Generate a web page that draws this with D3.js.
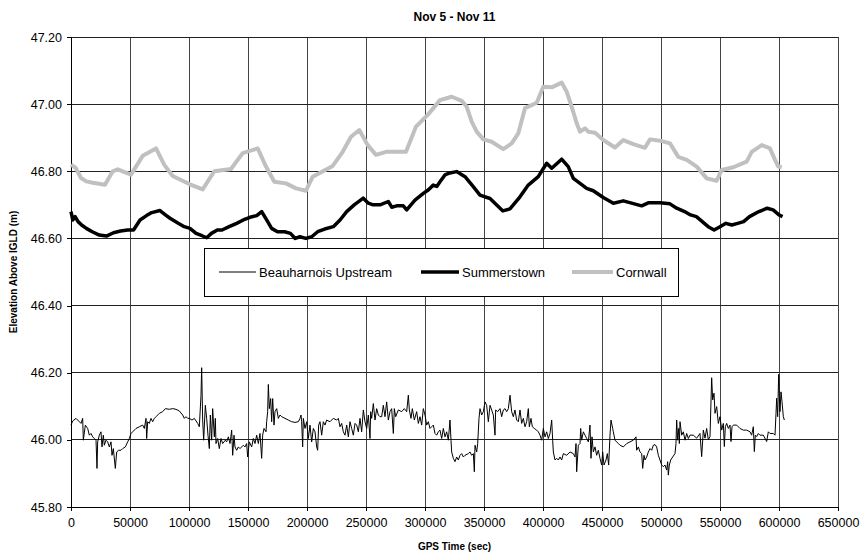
<!DOCTYPE html>
<html>
<head>
<meta charset="utf-8">
<script src="https://cdn.jsdelivr.net/npm/d3@7"></script>
<style>
  html, body { margin: 0; padding: 0; background: #fff; }
  svg { display: block; font-family: Arial, "Liberation Sans", sans-serif; }
</style>
</head>
<body>
<svg id="chart" width="863" height="558"></svg>
<script>
// Water level elevations, Nov 5 - Nov 11 (GPS time in seconds, elevation in m above IGLD)

const xTicks = [0, 50000, 100000, 150000, 200000, 250000, 300000, 350000, 400000, 450000, 500000, 550000, 600000, 650000];
const yTicks = [45.8, 46.0, 46.2, 46.4, 46.6, 46.8, 47.0, 47.2];
const seriesNames = ["Beauharnois Upstream", "Summerstown", "Cornwall"];

const beauharnoisTime = [
  0, 1400, 4240, 6500, 8500, 9890, 10450, 12150, 14120, 15540, 16950, 18360, 19780, 21190, 22030, 22600,
  24010, 25420, 26270, 27400, 28250, 29660, 31070, 32490, 33900, 34750, 35880, 37570, 38700, 40400, 42370,
  43780, 46050, 48030, 49440, 50850, 52260, 55090, 57910, 60740, 62150, 63560, 64130, 64970, 66380, 67790,
  69210, 70620, 72040, 74860, 77680, 79940, 83330, 86160, 88980, 91810, 94640, 96050, 97460, 98870, 100280,
  102540, 104520, 107350, 108760, 110170, 110730, 111580, 112430, 113840, 114970, 116100, 117230, 118080,
  119210, 120060, 121470, 122310, 122880, 124290, 125700, 127120, 128530, 130790,
  131920, 133330, 134750, 136160, 137010, 138140, 138980, 140400, 141810, 143220, 146050, 147460, 148870,
  149720, 151130, 153110, 154520, 155930, 157350, 158760, 160170, 161580, 162430, 163560, 165260, 165820,
  166670, 167230, 168080, 169210, 170060, 170910, 172040, 172880, 174300, 175710, 177120, 178530, 181360,
  184180, 187010, 189830, 192660, 194070, 194920, 195480, 196330, 196890, 198310, 199720, 201130, 202540,
  203960, 205370, 206780, 208190, 209040, 209890, 211020, 212430, 213840, 215260, 216670, 219490, 222320,
  225140, 226560, 227970, 229380, 230790, 232210, 233620, 235030, 236440, 237860, 239270, 240680, 242090,
  243500, 244920, 246330, 247740, 249160, 250570, 251980, 253390, 253960, 254800, 256220, 257630, 259040,
  260450, 261870,
  263280, 264690, 266100, 267520, 268930, 270340, 271750, 273170, 274010, 275140, 277400, 280230, 282490,
  284470, 285880, 286720, 288140, 289270, 290960, 292940, 294350, 295760, 297180, 298590, 300000, 301410,
  302830, 304240, 305650, 307060, 308480, 309890, 311300, 312710, 314130, 315540, 316960, 318360, 319780,
  321190, 322040, 322600, 324020, 325430, 326840, 328250, 329660, 331080, 332490, 333900, 336720, 338140,
  339550, 340970, 341810, 342380, 343790, 344640, 345760, 346610, 348030, 349440, 350850, 352260, 353680,
  355090, 356500, 357910, 359320, 359890, 361580, 363560, 364970, 366390, 367800, 369210, 370620, 372040,
  373450, 374860, 376270, 377680, 379100, 380510, 381920, 383330, 384750, 386160, 387570, 388420, 389830,
  390960, 392660,
  394630, 396050, 397460, 398870, 400280, 401700, 403110, 404520, 405930, 407350, 408190, 408760, 410170,
  411580, 412990, 414410, 415820, 417230, 420060, 422880, 425710, 427120, 427970, 428530, 429940, 431360,
  431920, 432770, 434180, 435600, 437010, 438420, 439830, 440680, 441530, 442660, 444070, 445480, 446900,
  448310, 449720, 450570, 451700, 453390, 454520, 455650, 456780, 457630, 459040, 459610, 461020, 462430,
  463840, 465260, 468080, 470910, 473730, 476560, 478820, 479380, 480790, 482210, 483620, 484470, 485600,
  486440, 487850, 489270, 490680, 492090, 493500, 494920, 496330, 497740, 499150, 500570, 501980, 503390,
  504800, 505650, 506210, 507060, 508190, 509890, 511870, 512710, 513280, 514130, 514970, 515540, 516110,
  517520, 518930, 520340, 521760, 523170, 524580,
  527400, 530230, 533050, 534460, 535880, 537290, 538700, 540120, 541530, 542940, 543790, 544920, 545770,
  547180, 548590, 550000, 551420, 552830, 553680, 554520, 555650, 557070, 558480, 559330, 560180, 561310,
  564130, 566960, 569780, 572610, 575430, 576840, 578250, 579100, 579950, 581080, 582490, 583900, 586730,
  589550, 590960, 592380, 595200, 596610, 597460, 598030, 598870, 599720, 600290, 600850, 601700, 602550,
  603680, 604530
];
const beauharnoisLevel = [
  46.044, 46.056, 46.064, 46.056, 46.049, 46.064, 45.999, 46.044, 46.034, 46.014, 46.019, 46.009, 46.004, 45.999, 45.915, 45.994,
  46.014, 46.024, 45.979, 46.014, 45.984, 45.999, 45.994, 45.979, 45.994, 45.954, 45.974, 45.915, 45.964, 45.969, 45.969,
  45.974, 45.979, 45.994, 46.004, 46.019, 46.024, 46.034, 46.039, 46.044, 46.034, 46.064, 46.004, 46.054, 46.049, 46.064,
  46.054, 46.064, 46.069, 46.079, 46.084, 46.093, 46.091, 46.093, 46.091, 46.086, 46.074, 46.064, 46.069, 46.064, 46.064,
  46.059, 46.064, 46.049, 46.039, 46.133, 46.215, 46.059, 45.999, 46.103, 46.064, 46.014, 45.974, 46.074,
  45.999, 46.093, 46.009, 46.064, 45.989, 46.004, 45.974, 46.004, 45.989, 45.999,
  45.994, 46.009, 45.989, 46.029, 45.954, 46.014, 45.979, 45.969, 45.979, 45.974, 45.984, 45.979, 45.989,
  45.949, 45.994, 45.979, 46.004, 45.989, 46.014, 45.989, 46.019, 45.945, 46.014, 46.034, 46.024, 46.054,
  46.084, 46.165, 46.093, 46.123, 46.054, 46.123, 46.044, 46.084, 46.093, 46.064, 46.074, 46.069, 46.064,
  46.059, 46.054, 46.052, 46.054, 46.064, 46.074, 46.054, 45.979, 46.064, 46.034, 46.054, 46.004, 46.044,
  45.994, 46.034, 46.024, 45.979, 45.969, 46.044, 46.054, 46.014, 46.054, 46.044, 46.059, 46.054, 46.064,
  46.059, 46.064, 46.039, 46.049, 46.024, 46.014, 46.044, 46.009, 46.054, 46.034, 46.014, 46.049, 46.044,
  46.024, 46.064, 46.024, 46.089, 46.054, 46.034, 46.074, 46.004, 46.084, 46.064, 46.108, 46.059, 46.093,
  46.074, 46.069,
  46.069, 46.103, 46.069, 46.113, 46.059, 46.084, 46.093, 46.019, 46.093, 46.069, 46.089, 46.084, 46.093,
  46.084, 46.133, 46.089, 46.064, 46.093, 46.059, 46.084, 46.049, 46.069, 46.044, 46.093, 46.074, 46.044,
  46.054, 46.034, 46.039, 46.044, 46.019, 46.014, 46.024, 46.029, 46.004, 46.034, 46.009, 46.024, 45.999,
  46.059, 45.999, 45.964, 45.945, 45.935, 45.949, 45.940, 45.954, 45.959, 45.949, 45.954, 45.959, 45.964,
  45.954, 45.959, 45.905, 45.984, 45.964, 45.989, 46.064, 46.093, 46.074, 46.084, 46.113, 46.103, 46.054,
  46.103, 46.089, 46.074, 46.014, 46.089, 46.084, 46.093, 46.069, 46.089, 46.093, 46.084, 46.093, 46.133,
  46.084, 46.069, 46.089, 46.059, 46.054, 46.089, 46.049, 46.064, 46.039, 46.054, 46.093, 46.039, 46.064,
  46.039, 46.034,
  46.029, 46.024, 46.014, 45.999, 46.034, 46.009, 46.024, 46.004, 46.019, 46.059, 45.999, 45.964, 45.940,
  45.945, 45.940, 45.949, 45.940, 45.959, 45.954, 45.964, 45.959, 45.949, 45.989, 45.905, 45.984, 45.989,
  46.034, 45.999, 46.024, 46.014, 46.004, 45.994, 46.044, 45.945, 46.009, 45.964, 45.979, 45.954, 45.969,
  45.945, 45.925, 45.964, 45.925, 45.940, 45.959, 45.925, 46.014, 46.059, 46.034, 46.024, 45.999, 45.994,
  45.989, 45.984, 45.979, 45.989, 45.994, 45.999, 46.009, 45.969, 45.979, 45.964, 45.959, 45.915, 45.954,
  45.940, 45.949, 45.964, 45.974, 45.969, 45.984, 45.986, 45.979, 45.954, 45.940, 45.925, 45.920, 45.925,
  45.910, 45.935, 45.895, 45.925, 45.940, 45.949, 45.959, 45.989, 46.059, 45.999, 46.034, 45.989, 46.054,
  46.014, 46.024, 45.999, 46.019, 46.004, 46.014,
  46.014, 46.005, 46.019, 45.950, 46.029, 46.005, 46.034, 46.000, 46.010, 46.185, 46.119, 46.139, 46.079,
  46.099, 46.049, 46.069, 46.029, 46.049, 45.980, 46.039, 46.049, 46.034, 46.044, 45.995, 46.039, 46.044,
  46.044, 46.034, 46.029, 46.029, 46.024, 46.014, 46.039, 45.965, 46.014, 46.010, 46.019, 46.014, 46.014,
  45.995, 46.024, 46.019, 46.019, 46.014, 46.079, 46.124, 46.069, 46.195, 46.129, 46.084, 46.143, 46.114,
  46.069, 46.059
];

const summerstownTime = [
  0, 1500, 3500, 6000, 9000, 13000, 18000, 24000, 30000, 36000, 42000, 48000, 53000, 58500, 64000, 68400,
  75400, 80000, 83900, 90900, 96000, 100800, 106000, 111000, 115000, 119000, 124000, 128000, 134000, 140400,
  146000, 151700, 157400, 161600, 165800, 170000, 175000, 181000, 186000, 190000, 194000, 199000, 204000,
  209000, 215000, 222300, 228000, 233600, 240000, 247700, 252000, 256000, 261900, 268900, 271800, 276000,
  281600, 284500, 291500, 298600, 303000, 307000, 310000, 313000, 316900, 321000, 326800, 333900, 340900,
  346600, 355100, 362100, 366000, 372000, 380500, 387500, 396000, 403100, 407400, 415800, 421400, 425700,
  431400, 437000, 442600, 451100, 459600, 468100, 483600, 489200, 499200, 507600, 513300, 520000, 525000,
  530000, 535000, 540000, 545000, 550000, 555000, 560000, 565000, 570000, 575000, 583000, 590000, 595000,
  600000, 603000
];
const summerstownLevel = [
  46.68, 46.655, 46.665, 46.65, 46.64, 46.63, 46.62, 46.61, 46.607, 46.617, 46.622, 46.625, 46.625, 46.655, 46.668, 46.677,
  46.683, 46.67, 46.66, 46.645, 46.635, 46.63, 46.615, 46.608, 46.602, 46.615, 46.625, 46.625, 46.635, 46.645,
  46.655, 46.663, 46.668, 46.68, 46.655, 46.63, 46.62, 46.62, 46.615, 46.60, 46.605, 46.60, 46.605,
  46.62, 46.628, 46.635, 46.655, 46.68, 46.70, 46.72, 46.705, 46.70, 46.70, 46.71, 46.693, 46.697,
  46.697, 46.685, 46.714, 46.734, 46.745, 46.759, 46.755, 46.77, 46.789, 46.795, 46.799, 46.784, 46.754,
  46.729, 46.719, 46.695, 46.682, 46.688, 46.724, 46.759, 46.784, 46.824, 46.809, 46.836, 46.814, 46.779,
  46.764, 46.749, 46.742, 46.722, 46.705, 46.712, 46.697, 46.706, 46.706, 46.703, 46.69, 46.68, 46.67,
  46.665, 46.65, 46.635, 46.625, 46.635, 46.645, 46.64, 46.645, 46.65, 46.665, 46.68, 46.69, 46.685,
  46.67, 46.665
];

const cornwallTime = [
  0, 4000, 8475, 13000, 18390, 28800, 35340, 39580, 50850, 60760, 72030, 79070, 86190, 100250, 111610,
  121440, 135590, 145510, 158220, 165250, 172290, 182200, 190680, 199150, 204830, 221780, 230250, 237290,
  244320, 251440, 258470, 266950, 283900, 292370, 302290, 312710, 322630, 331100, 335340, 339580, 343810,
  349410, 356520, 366350, 373480, 379070, 384750, 394660, 400260, 407380, 415850, 420090, 424330, 428560,
  431360, 435590, 438400, 444070, 451100, 461020, 468060, 476530, 486440, 490680, 500600, 507630, 514670,
  521790, 530260, 538740, 547210, 551450, 561280, 572640, 576870, 585350, 592380, 596620, 599410, 602290
];
const cornwallLevel = [
  46.82, 46.81, 46.78, 46.77, 46.766, 46.76, 46.80, 46.806, 46.79, 46.846, 46.868, 46.819, 46.786, 46.762, 46.746,
  46.80, 46.807, 46.854, 46.868, 46.814, 46.769, 46.764, 46.749, 46.742, 46.784, 46.816, 46.858, 46.903,
  46.923, 46.878, 46.849, 46.858, 46.858, 46.933, 46.968, 47.012, 47.022, 47.01, 46.992, 46.948, 46.918,
  46.895, 46.888, 46.866, 46.883, 46.913, 46.988, 47.004, 47.052, 47.05, 47.064, 47.037, 46.992, 46.943,
  46.918, 46.928, 46.918, 46.915, 46.893, 46.871, 46.893, 46.881, 46.87, 46.895, 46.89, 46.883, 46.843,
  46.834, 46.814, 46.779, 46.772, 46.804, 46.812, 46.829, 46.858, 46.878, 46.868, 46.834, 46.814, 46.812
];

const svg = d3.select("#chart");
const margin = { left: 71, right: 25, top: 37, bottom: 51 };
const W = 863, H = 558;

const x = d3.scaleLinear().domain([0, 650000]).range([margin.left, W - margin.right]);
const y = d3.scaleLinear().domain([45.8, 47.2]).range([H - margin.bottom, margin.top]);

// grid
const grid = svg.append("g").attr("shape-rendering", "crispEdges");
grid.selectAll("line.v").data(xTicks).join("line")
  .attr("x1", d => x(d)).attr("x2", d => x(d))
  .attr("y1", y(45.8)).attr("y2", y(47.2))
  .attr("stroke", "#444").attr("stroke-width", 1);
grid.selectAll("line.h").data(yTicks).join("line")
  .attr("x1", x(0)).attr("x2", x(650000))
  .attr("y1", d => y(d)).attr("y2", d => y(d))
  .attr("stroke", "#222").attr("stroke-width", 1);

// axes
const xAxis = d3.axisBottom(x).tickValues(xTicks).tickFormat(d3.format("d")).tickSize(4).tickPadding(7);
const yAxis = d3.axisLeft(y).tickValues(yTicks).tickFormat(d3.format(".2f")).tickSize(4).tickPadding(5);

const gx = svg.append("g").attr("transform", `translate(0,${y(45.8)})`).call(xAxis);
const gy = svg.append("g").attr("transform", `translate(${x(0)},0)`).call(yAxis);
[gx, gy].forEach(g => {
  g.attr("shape-rendering", "crispEdges");
  g.select(".domain").attr("stroke", "#000");
  g.selectAll(".tick line").attr("stroke", "#000");
  g.selectAll(".tick text").attr("fill", "#000")
    .style("font-family", "Arial, 'Liberation Sans', sans-serif").style("font-size", "12.5px");
});

// series
const line = (ts, vs) => d3.line().x((d, i) => x(ts[i])).y((d, i) => y(vs[i]))(vs);

svg.append("path").attr("d", line(beauharnoisTime, beauharnoisLevel))
  .attr("fill", "none").attr("stroke", "#000").attr("stroke-width", 1).attr("stroke-linejoin", "round");
svg.append("path").attr("d", line(cornwallTime, cornwallLevel))
  .attr("fill", "none").attr("stroke", "#c0c0c0").attr("stroke-width", 4).attr("stroke-linejoin", "round");
svg.append("path").attr("d", line(summerstownTime, summerstownLevel))
  .attr("fill", "none").attr("stroke", "#000").attr("stroke-width", 3.5).attr("stroke-linejoin", "round");

// legend
const legend = svg.append("g");
legend.append("rect").attr("x", 204.5).attr("y", 248.5).attr("width", 474).attr("height", 48)
  .attr("fill", "#fff").attr("stroke", "#000").attr("stroke-width", 1).attr("shape-rendering", "crispEdges");
const legendItems = [
  { name: seriesNames[0], x0: 219, x1: 256, color: "#000", w: 1 },
  { name: seriesNames[1], x0: 421, x1: 459, color: "#000", w: 3.5 },
  { name: seriesNames[2], x0: 572, x1: 613, color: "#c0c0c0", w: 4 }
];
const ly = 272;
legendItems.forEach(it => {
  legend.append("line").attr("x1", it.x0).attr("x2", it.x1).attr("y1", ly).attr("y2", ly)
    .attr("stroke", it.color).attr("stroke-width", it.w);
  legend.append("text").attr("x", it.x1 + 3).attr("y", ly).attr("dy", "0.35em")
    .style("font-size", "13px").attr("fill", "#000").text(it.name);
});

// titles
svg.append("text").attr("x", (x(0) + x(650000)) / 2).attr("y", 21).attr("text-anchor", "middle")
  .style("font-size", "12px").style("font-weight", "bold").text("Nov 5 - Nov 11");
svg.append("text").attr("x", (x(0) + x(650000)) / 2).attr("y", 550).attr("text-anchor", "middle")
  .style("font-size", "10px").style("font-weight", "bold").text("GPS Time (sec)");
svg.append("text").attr("transform", `translate(17,${(y(45.8) + y(47.2)) / 2}) rotate(-90)`)
  .attr("text-anchor", "middle")
  .style("font-size", "10px").style("font-weight", "bold").text("Elevation Above IGLD (m)");
</script>
</body>
</html>
